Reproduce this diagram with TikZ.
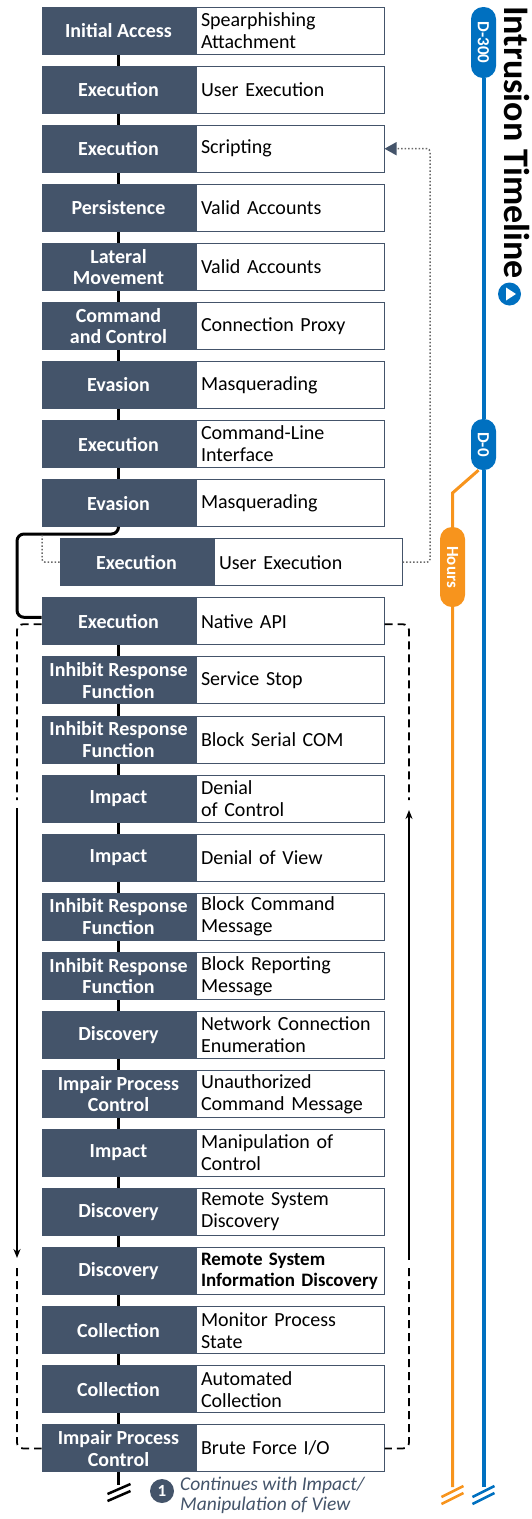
\documentclass[tikz,border=0pt]{standalone}
\usepackage{fontspec}
\setmainfont{Carlito}
\usetikzlibrary{arrows.meta,positioning,calc}
\definecolor{slate}{RGB}{68,84,106}
\definecolor{tlblue}{RGB}{0,112,192}
\definecolor{tlorange}{RGB}{247,148,29}
\definecolor{dotgray}{RGB}{105,105,105}

\begin{document}
\begin{tikzpicture}[x=1pt,y=-1pt]
    % Define styles
    \tikzstyle{tactic} = [rectangle, draw=slate, fill=slate, text=white, font=\bfseries\fontsize{20}{21.5}\selectfont, minimum width=153pt, minimum height=47pt, align=center, inner sep=1pt, line width=1pt]
    \tikzstyle{technique} = [rectangle, draw=slate, fill=white, font=\fontsize{20}{22}\selectfont, text width=178pt, minimum height=47pt, align=left, inner xsep=5pt, inner ysep=1pt, line width=1pt]
    \tikzstyle{link} = [line width=3pt]
    \tikzstyle{cycleline} = [line width=1.8pt, dash pattern=on 8pt off 5pt, rounded corners=6pt]
    \tikzstyle{arrow} = [line width=1.8pt, -{Stealth[length=9pt,width=7pt]}]
    \tikzstyle{hint} = [dotgray, line width=1.5pt, dash pattern=on 1.5pt off 2pt, rounded corners=3pt]
    \tikzstyle{pill} = [rectangle, rounded corners=12pt, rotate=-90, text=white, font=\bfseries\fontsize{17}{17}\selectfont, minimum height=25pt, inner sep=0pt]
    \tikzstyle{track} = [line width=4pt]
    \tikzstyle{brk} = [line width=2.5pt]

    \useasboundingbox (0,0) rectangle (532,1519);

    % Attack steps
    \node[tactic] (tac0) at (118.5,30.5) {Initial Access};
    \node[technique, right=0pt of tac0] (tech0) {Spearphishing\\Attachment};
    \node[tactic] (tac1) at (118.5,89.6) {Execution};
    \node[technique, right=0pt of tac1] (tech1) {User Execution};
    \node[tactic] (tac2) at (118.5,148.7) {Execution};
    \node[technique, right=0pt of tac2] (tech2) {Scripting};
    \node[tactic] (tac3) at (118.5,207.7) {Persistence};
    \node[technique, right=0pt of tac3] (tech3) {Valid Accounts};
    \node[tactic] (tac4) at (118.5,266.8) {Lateral\\Movement};
    \node[technique, right=0pt of tac4] (tech4) {Valid Accounts};
    \node[tactic] (tac5) at (118.5,325.9) {Command\\and Control};
    \node[technique, right=0pt of tac5] (tech5) {Connection Proxy};
    \node[tactic] (tac6) at (118.5,385.0) {Evasion};
    \node[technique, right=0pt of tac6] (tech6) {Masquerading};
    \node[tactic] (tac7) at (118.5,444.1) {Execution};
    \node[technique, right=0pt of tac7] (tech7) {Command-Line\\Interface};
    \node[tactic] (tac8) at (118.5,503.1) {Evasion};
    \node[technique, right=0pt of tac8] (tech8) {Masquerading};
    \node[tactic] (tac9) at (136.5,562.2) {Execution};
    \node[technique, right=0pt of tac9] (tech9) {User Execution};
    \node[tactic] (tac10) at (118.5,621.3) {Execution};
    \node[technique, right=0pt of tac10] (tech10) {Native API};
    \node[tactic] (tac11) at (118.5,680.4) {Inhibit Response\\Function};
    \node[technique, right=0pt of tac11] (tech11) {Service Stop};
    \node[tactic] (tac12) at (118.5,739.5) {Inhibit Response\\Function};
    \node[technique, right=0pt of tac12] (tech12) {Block Serial COM};
    \node[tactic] (tac13) at (118.5,798.5) {Impact};
    \node[technique, right=0pt of tac13] (tech13) {Denial\\of Control};
    \node[tactic] (tac14) at (118.5,857.6) {Impact};
    \node[technique, right=0pt of tac14] (tech14) {Denial of View};
    \node[tactic] (tac15) at (118.5,916.7) {Inhibit Response\\Function};
    \node[technique, right=0pt of tac15] (tech15) {Block Command\\Message};
    \node[tactic] (tac16) at (118.5,975.8) {Inhibit Response\\Function};
    \node[technique, right=0pt of tac16] (tech16) {Block Reporting\\Message};
    \node[tactic] (tac17) at (118.5,1034.9) {Discovery};
    \node[technique, right=0pt of tac17] (tech17) {Network Connection\\Enumeration};
    \node[tactic] (tac18) at (118.5,1093.9) {Impair Process\\Control};
    \node[technique, right=0pt of tac18] (tech18) {Unauthorized\\Command Message};
    \node[tactic] (tac19) at (118.5,1153.0) {Impact};
    \node[technique, right=0pt of tac19] (tech19) {Manipulation of\\Control};
    \node[tactic] (tac20) at (118.5,1212.1) {Discovery};
    \node[technique, right=0pt of tac20] (tech20) {Remote System\\Discovery};
    \node[tactic] (tac21) at (118.5,1271.2) {Discovery};
    \node[technique, right=0pt of tac21, font=\bfseries\fontsize{19}{21.5}\selectfont] (tech21) {Remote System\\Information Discovery};
    \node[tactic] (tac22) at (118.5,1330.3) {Collection};
    \node[technique, right=0pt of tac22] (tech22) {Monitor Process\\State};
    \node[tactic] (tac23) at (118.5,1389.3) {Collection};
    \node[technique, right=0pt of tac23] (tech23) {Automated\\Collection};
    \node[tactic] (tac24) at (118.5,1448.4) {Impair Process\\Control};
    \node[technique, right=0pt of tac24] (tech24) {Brute Force I/O};

    % Flow
    \draw[link] (tac0) -- (tac1);
    \draw[link] (tac1) -- (tac2);
    \draw[link] (tac2) -- (tac3);
    \draw[link] (tac3) -- (tac4);
    \draw[link] (tac4) -- (tac5);
    \draw[link] (tac5) -- (tac6);
    \draw[link] (tac6) -- (tac7);
    \draw[link] (tac7) -- (tac8);
    \draw[link] (tac10) -- (tac11);
    \draw[link] (tac11) -- (tac12);
    \draw[link] (tac12) -- (tac13);
    \draw[link] (tac13) -- (tac14);
    \draw[link] (tac14) -- (tac15);
    \draw[link] (tac15) -- (tac16);
    \draw[link] (tac16) -- (tac17);
    \draw[link] (tac17) -- (tac18);
    \draw[link] (tac18) -- (tac19);
    \draw[link] (tac19) -- (tac20);
    \draw[link] (tac20) -- (tac21);
    \draw[link] (tac21) -- (tac22);
    \draw[link] (tac22) -- (tac23);
    \draw[link] (tac23) -- (tac24);

    % Detour round the side step
    \coordinate (bendtop) at (17,534);
    \coordinate (splitpt) at (42,534);
    \coordinate (backhook) at (430,148.7);
    \draw[link, rounded corners=7pt] (tac8.south) |- (bendtop) |- ([yshift=4pt]tac10.west);
    \draw[hint] (tac9.west) -| (splitpt);
    \draw[hint, -{Triangle[length=12pt,width=13pt,color=slate]}] (tech9.east) -| (backhook) -- (tech2.east);

    % Repeating loop
    \coordinate (leftgapA) at (17,800);
    \coordinate (leftgapB) at (17,808);
    \coordinate (leftgapC) at (17,1258);
    \coordinate (leftgapD) at (17,1268);
    \coordinate (rightgapA) at (409,800);
    \coordinate (rightgapB) at (409,810);
    \coordinate (rightgapC) at (409,1260);
    \coordinate (rightgapD) at (409,1268);
    \draw[cycleline] ([yshift=-3pt]tac10.west) -| (leftgapA);
    \draw[arrow] (leftgapB) -- (leftgapC);
    \draw[cycleline] (leftgapD) |- (tac24.west);
    \draw[cycleline] ([yshift=-3pt]tech10.east) -| (rightgapA);
    \draw[arrow] (rightgapC) -- (rightgapB);
    \draw[cycleline] (rightgapD) |- (tech24.east);

    % Continuation
    \coordinate (flowend) at (118.5,1485);
    \draw[link] (tac24) -- (flowend);
    \draw[brk] ([shift={(-11,9)}]flowend) -- ++(23,-10);
    \draw[brk] ([shift={(-11,16)}]flowend) -- ++(23,-10);
    \node[circle, fill=slate, text=white, font=\bfseries\fontsize{17}{17}\selectfont, minimum size=24pt, inner sep=0pt] (note) at (162,1491) {1};
    \node[anchor=north west, inner sep=0pt, align=left, text=slate, font=\itshape\fontsize{19.5}{20}\selectfont] (cont) at (180,1477) {Continues with Impact/\\Manipulation of View};

    % Timeline
    \node[pill, fill=tlblue, minimum width=71pt] (d300) at (483.5,42.5) {D-300};
    \node[pill, fill=tlblue, minimum width=51pt] (d0) at (483.5,444.5) {D-0};
    \node[pill, fill=tlorange, minimum width=80pt] (hours) at (452.5,567) {Hours};
    \coordinate (blueend) at (483.5,1487);
    \coordinate (orangeend) at (452.5,1487);
    \coordinate (obend) at (452.5,493);
    \draw[track, tlblue] (d300) -- (d0) -- (blueend);
    \draw[track, tlorange, line width=3pt] ([xshift=-5pt]d0.east) -- (obend) -- (hours) -- (orangeend);
    \draw[brk, tlblue] ([shift={(-11,10)}]blueend) -- ++(22,-11);
    \draw[brk, tlblue] ([shift={(-11,17)}]blueend) -- ++(22,-11);
    \draw[brk, tlorange] ([shift={(-11,10)}]orangeend) -- ++(22,-11);
    \draw[brk, tlorange] ([shift={(-11,17)}]orangeend) -- ++(22,-11);

    % Title
    \node[rotate=-90, anchor=west, inner sep=0pt, font=\bfseries\fontsize{36}{36}\selectfont] (headline) at (516.5,6) {Intrusion Timeline};
    \node[circle, fill=tlblue, minimum size=23pt, inner sep=0pt] (play) at (509.5,294) {};
    \fill[white] ([shift={(-3.5,-6.5)}]play.center) -- ++(10,6.5) -- ++(-10,6.5) -- cycle;
\end{tikzpicture}
\end{document}
